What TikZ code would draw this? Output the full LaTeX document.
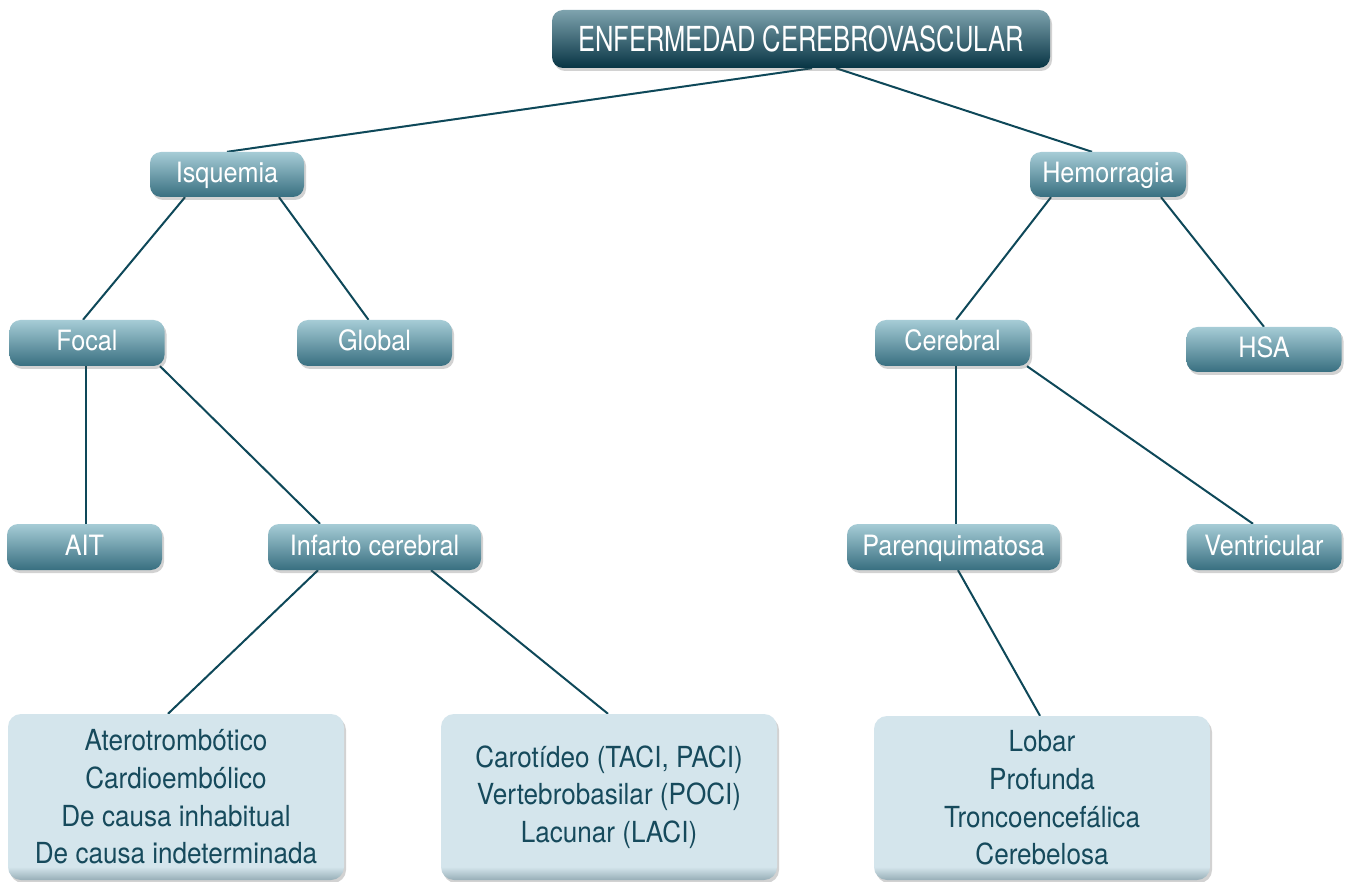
\documentclass[tikz,border=0pt]{standalone}
\usepackage{fontspec}
\setmainfont{TeX Gyre Heros}[FakeStretch=0.9]
\newfontfamily\headfont{TeX Gyre Heros}[FakeStretch=0.74]
\usetikzlibrary{shadows,backgrounds}

\definecolor{linkcol}{HTML}{0E4859}
\definecolor{midtop}{HTML}{A6CCD6}
\definecolor{midmid}{HTML}{4A93A7}
\definecolor{midbot}{HTML}{386F80}
\definecolor{headtop}{HTML}{7EA3AE}
\definecolor{headmid}{HTML}{0E4D61}
\definecolor{headbot}{HTML}{073444}
\definecolor{leaffill}{HTML}{D4E5EC}
\definecolor{leafedge}{HTML}{97AEB7}
\definecolor{leaftext}{HTML}{164A5C}

% light box with a darker rim along its lower edge
\pgfdeclareverticalshading{leafshade}{100bp}{color(0bp)=(leafedge); color(25bp)=(leafedge);
  color(29bp)=(leaffill); color(100bp)=(leaffill)}

\tikzset{
  boxshadow/.style={drop shadow={shadow xshift=2pt,shadow yshift=-3pt,opacity=.25,fill=black!70}},
  headbox/.style={rounded corners=11pt,top color=headtop,middle color=headmid,bottom color=headbot,
    text=white,font=\headfont\fontsize{34.5}{40}\selectfont,minimum width=498pt,minimum height=58pt,
    inner sep=0pt,boxshadow},
  catbox/.style={rounded corners=11pt,top color=midtop,middle color=midmid,bottom color=midbot,
    text=white,font=\fontsize{28}{34}\selectfont,minimum width=155pt,minimum height=46pt,
    inner sep=0pt,text height=20pt,text depth=4pt,boxshadow},
  leafbox/.style={rounded corners=13pt,shading=leafshade,text=leaftext,align=center,
    font=\fontsize{29}{37.7}\selectfont,minimum width=336pt,minimum height=166pt,inner sep=0pt,
    boxshadow},
  link/.style={draw=linkcol,line width=2pt}
}

\begin{document}
\begin{tikzpicture}[x=1pt,y=-1pt]
\useasboundingbox (0,0) rectangle (1347,882);

% root and first level
\node[headbox] (top) at (801,39) {ENFERMEDAD CEREBROVASCULAR};
\node[catbox,minimum width=154pt,minimum height=45pt] (isq) at (227,174.5) {Isquemia};
\node[catbox,minimum width=156pt,minimum height=45pt] (hem) at (1108,174.5) {Hemorragia};

% second level
\node[catbox] (focal) at (87,343) {Focal};
\node[catbox] (global) at (374.5,343) {Global};
\node[catbox] (cereb) at (952.5,343) {Cerebral};
\node[catbox,minimum height=45pt] (hsa) at (1264,349.5) {HSA};

% third level
\node[catbox] (ait) at (84.5,547) {AIT};
\node[catbox,minimum width=213pt] (inf) at (374.5,547) {Infarto cerebral};
\node[catbox,minimum width=213pt] (par) at (953.5,547) {Parenquimatosa};
\node[catbox] (ven) at (1264,547) {Ventricular};

% leaf boxes
\node[leafbox] (etio) at (176,797) {Aterotrombótico\\Cardioembólico\\De causa inhabitual\\De causa indeterminada};
\node[leafbox] (topo) at (609,797) {Carotídeo (TACI, PACI)\\Vertebrobasilar (POCI)\\Lacunar (LACI)};
\node[leafbox,minimum height=164pt] (loc) at (1042,798) {Lobar\\Profunda\\Troncoencefálica\\Cerebelosa};

% white page and connectors, behind the boxes
\begin{scope}[on background layer]
\fill[white] (0,0) rectangle (1347,882);
\draw[link] ([xshift=11pt]top.south) -- (isq.north);
\draw[link] ([xshift=35pt]top.south) -- ([xshift=-16pt]hem.north);
\draw[link] ([xshift=-42pt]isq.south) -- ([xshift=-4pt]focal.north);
\draw[link] ([xshift=52pt]isq.south) -- ([xshift=-6pt]global.north);
\draw[link] ([xshift=-1pt]focal.south) -- ([xshift=1.5pt]ait.north);
\draw[link] ([xshift=73pt]focal.south) -- ([xshift=-54.5pt]inf.north);
\draw[link] ([xshift=-57pt]hem.south) -- ([xshift=3.5pt]cereb.north);
\draw[link] ([xshift=53pt]hem.south) -- (hsa.north);
\draw[link] ([xshift=3.5pt]cereb.south) -- ([xshift=2.5pt]par.north);
\draw[link] ([xshift=74.5pt]cereb.south) -- ([xshift=-11pt]ven.north);
\draw[link] ([xshift=-56.5pt]inf.south) -- ([xshift=-8pt]etio.north);
\draw[link] ([xshift=56.5pt]inf.south) -- ([xshift=-1pt]topo.north);
\draw[link] ([xshift=4.5pt]par.south) -- ([xshift=-2pt]loc.north);
\end{scope}
\end{tikzpicture}
\end{document}
